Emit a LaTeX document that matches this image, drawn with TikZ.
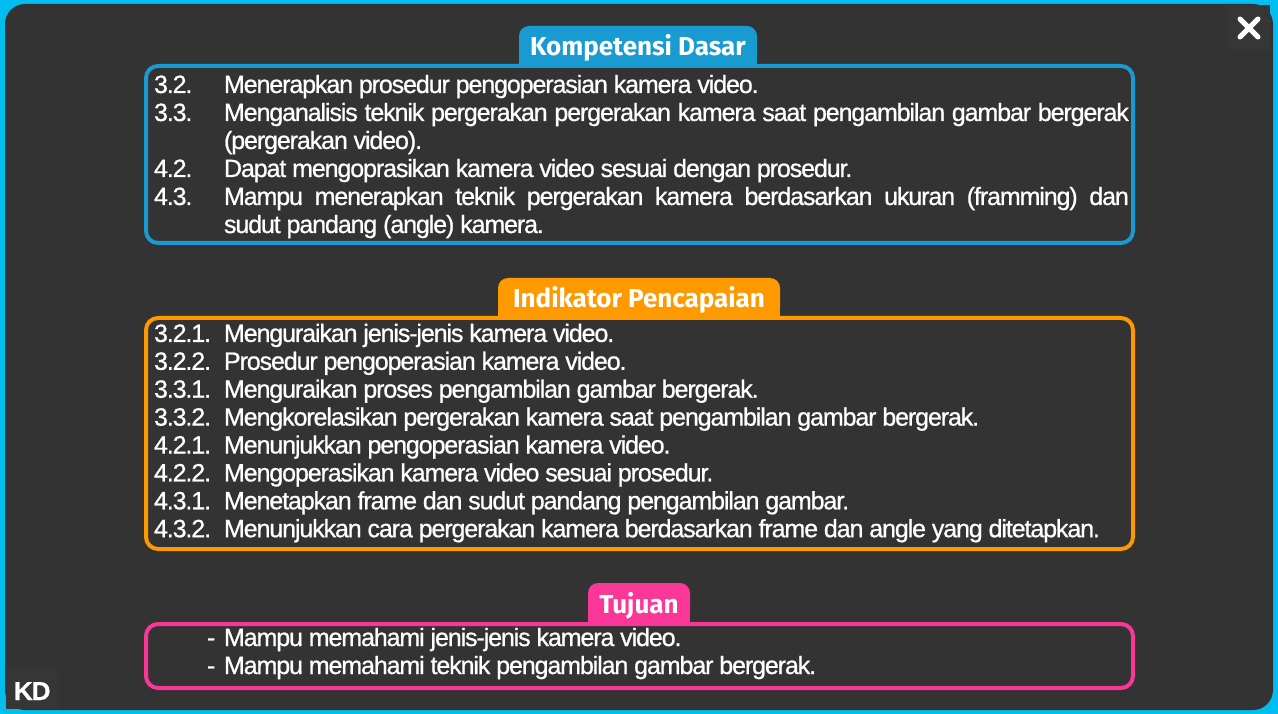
\documentclass[tikz,border=0pt]{standalone}
\usepackage{fontspec}
\setmainfont{Liberation Sans}[LetterSpace=-4.4,FakeBold=0.8]
\newfontfamily\tabfont{Fira Sans}
\usetikzlibrary{positioning}
\definecolor{bgcyan}{RGB}{0,190,240}
\definecolor{panel}{RGB}{51,51,51}
\definecolor{panelhi}{RGB}{54,54,54}
\definecolor{kdblue}{RGB}{25,155,210}
\definecolor{kdorange}{RGB}{255,153,0}
\definecolor{kdpink}{RGB}{250,55,150}

\begin{document}
\begin{tikzpicture}[x=1pt,y=-1pt,line width=4pt,
  item/.style={anchor=base west,inner sep=0pt,text=white,font=\fontsize{25}{28}\selectfont},
  tabtext/.style={anchor=base,inner sep=0pt,text=white,font=\tabfont\bfseries\fontsize{26}{30}\selectfont}]
   % frame
   \fill[bgcyan] (0,0) rectangle (1278,714);
   \fill[panel, rounded corners=20] (5,4) rectangle (1273,710);
   \fill[panelhi] (1228,5) rectangle (1270,50);
   \fill[panelhi] (6,668) rectangle (58,709);
   \draw[white, line width=5pt, line cap=round] (1240,19) -- (1258,37) (1258,19) -- (1240,37);
   \node[anchor=base west, inner sep=0pt, text=white, font=\bfseries\fontsize{26}{30}\selectfont] (kdlabel) at (12,700) {KD};

   % Kompetensi Dasar
   \draw[kdblue, rounded corners=12] (146,66) rectangle (1133,243);
   \fill[kdblue, rounded corners=10] (519,26) rectangle (757,66);
   \fill[kdblue] (519,50) rectangle (757,66);
   \node[tabtext] (kdtab) at (638,56) {Kompetensi Dasar};
   \node[item] (kdn1) at (152,93) {3.2.};
   \node[item] (kd1) at (222,93) {Menerapkan prosedur pengoperasian kamera video.};
   \node[item] (kdn2) at (152,121) {3.3.};
   \node[item] (kd2) at (222,121) {\makebox[905pt][s]{Menganalisis teknik pergerakan pergerakan kamera saat pengambilan gambar bergerak}};
   \node[item] (kd3) at (222,149) {(pergerakan video).};
   \node[item] (kdn4) at (152,177) {4.2.};
   \node[item] (kd4) at (222,177) {Dapat mengoprasikan kamera video sesuai dengan prosedur.};
   \node[item] (kdn5) at (152,205) {4.3.};
   \node[item] (kd5) at (222,205) {\makebox[905pt][s]{Mampu menerapkan teknik pergerakan kamera berdasarkan ukuran (framming) dan}};
   \node[item] (kd6) at (222,233) {sudut pandang (angle) kamera.};

   % Indikator Pencapaian
   \draw[kdorange, rounded corners=12] (146,318) rectangle (1133,549);
   \fill[kdorange, rounded corners=10] (498,278) rectangle (780,318);
   \fill[kdorange] (498,302) rectangle (780,318);
   \node[tabtext] (indtab) at (639,308) {Indikator Pencapaian};
   \foreach \n/\t [count=\i] in {
     {3.2.1.}/{Menguraikan jenis-jenis kamera video.},
     {3.2.2.}/{Prosedur pengoperasian kamera video.},
     {3.3.1.}/{Menguraikan proses pengambilan gambar bergerak.},
     {3.3.2.}/{Mengkorelasikan pergerakan kamera saat pengambilan gambar bergerak.},
     {4.2.1.}/{Menunjukkan pengoperasian kamera video.},
     {4.2.2.}/{Mengoperasikan kamera video sesuai prosedur.},
     {4.3.1.}/{Menetapkan frame dan sudut pandang pengambilan gambar.},
     {4.3.2.}/{Menunjukkan cara pergerakan kamera berdasarkan frame dan angle yang ditetapkan.}} {
     \node[item] (indn\i) at (152,314+27.9*\i) {\n};
     \node[item] (ind\i) at (222,314+27.9*\i) {\t};
   }

   % Tujuan
   \draw[kdpink, rounded corners=12] (146,624) rectangle (1133,688);
   \fill[kdpink, rounded corners=10] (588,583) rectangle (690,624);
   \fill[kdpink] (588,608) rectangle (690,624);
   \node[tabtext] (tjtab) at (639,613) {Tujuan};
   \node[item] (tjd1) at (205,646) {-};
   \node[item] (tj1) at (222,646) {Mampu memahami jenis-jenis kamera video.};
   \node[item] (tjd2) at (205,674) {-};
   \node[item] (tj2) at (222,674) {Mampu memahami teknik pengambilan gambar bergerak.};
\end{tikzpicture}
\end{document}
